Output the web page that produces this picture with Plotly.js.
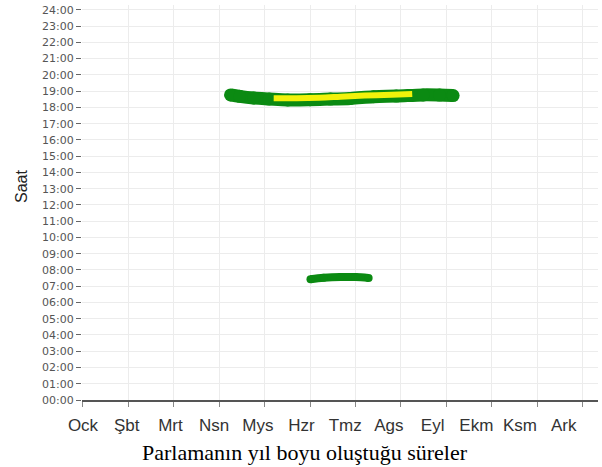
<!DOCTYPE html>
<html>
<head>
<meta charset="utf-8">
<script src="https://cdn.plot.ly/plotly-3.0.1.min.js"></script>
<style>html,body{margin:0;padding:0;background:#fff;}#chart{width:602px;height:467px;}</style>
</head>
<body>
<div id="chart"></div>
<script>
// Month labels (Turkish abbreviations)
const months = ["Ock","Şbt","Mrt","Nsn","Mys","Hzr","Tmz","Ags","Eyl","Ekm","Ksm","Ark"];
const monthIdx = [0,1,2,3,4,5,6,7,8,9,10,11];
const hourVals = [0,1,2,3,4,5,6,7,8,9,10,11,12,13,14,15,16,17,18,19,20,21,22,23,24];
const hourLabels = hourVals.map(h => (h < 10 ? "0" + h : "" + h) + ":00");

// Evening glare band (green), month position vs hour of day
const eveGreenX = [3.25, 3.45, 3.76, 4.10, 4.51, 5.00, 5.45, 5.89, 6.40, 6.90, 7.49, 7.85, 8.15];
const eveGreenY = [18.77, 18.68, 18.58, 18.52, 18.46, 18.47, 18.51, 18.55, 18.66, 18.70, 18.77, 18.76, 18.73];

// Evening glare band (yellow, inner)
const eveYellowX = [4.20, 4.70, 5.20, 5.67, 6.20, 6.80, 7.25];
const eveYellowY = [18.57, 18.57, 18.60, 18.66, 18.73, 18.78, 18.83];

// Morning glare band (green)
const mornGreenX = [5.01, 5.30, 5.67, 6.00, 6.29];
const mornGreenY = [7.43, 7.52, 7.57, 7.56, 7.51];

const traces = [
  {x: eveGreenX, y: eveGreenY, mode: "lines+markers", line: {color: "#0b8a12", width: 13, shape: "spline"},
   marker: {color: "#0b8a12", size: 13}, hoverinfo: "skip", showlegend: false},
  {x: eveYellowX, y: eveYellowY, mode: "lines", line: {color: "#f2f20a", width: 6, shape: "spline"},
   hoverinfo: "skip", showlegend: false},
  {x: mornGreenX, y: mornGreenY, mode: "lines+markers", line: {color: "#0b8a12", width: 8, shape: "spline"},
   marker: {color: "#0b8a12", size: 8}, hoverinfo: "skip", showlegend: false},
  {x: monthIdx, y: monthIdx.map(() => null), xaxis: "x2", mode: "markers", hoverinfo: "skip", showlegend: false}
];

const layout = {
  width: 602, height: 467,
  margin: {l: 82, r: 4, t: 5, b: 67},
  paper_bgcolor: "#ffffff", plot_bgcolor: "#ffffff",
  showlegend: false,
  xaxis: {
    range: [-0.02, 11.34], tickvals: monthIdx, showticklabels: false,
    ticks: "outside", ticklen: 5, tickcolor: "#888", tickwidth: 1,
    showgrid: true, gridcolor: "#ececec", gridwidth: 1,
    showline: true, linecolor: "#555", linewidth: 1.5, zeroline: false
  },
  xaxis2: {
    overlaying: "x", anchor: "y", side: "bottom",
    range: [-0.023, 11.785], tickvals: monthIdx, ticktext: months,
    ticks: "", showgrid: false, showline: false, zeroline: false,
    ticklabelstandoff: 13,
    tickfont: {family: "Liberation Sans, Arial, sans-serif", size: 17, color: "#333"}
  },
  yaxis: {
    range: [0, 24.3], tickvals: hourVals, ticktext: hourLabels,
    ticks: "outside", ticklen: 5, tickcolor: "#666", tickwidth: 1,
    showgrid: true, gridcolor: "#ececec", gridwidth: 1,
    showline: false, zeroline: false,
    tickfont: {family: "DejaVu Sans, sans-serif", size: 11, color: "#555"}
  },
  annotations: [
    {text: "Saat", xref: "paper", yref: "paper", x: (21 - 82) / 516, y: (400 - 187) / 395,
     xanchor: "center", yanchor: "middle", textangle: -90, showarrow: false,
     font: {family: "Liberation Sans, Arial, sans-serif", size: 16, color: "#222"}},
    {text: "Parlamanın yıl boyu oluştuğu süreler", xref: "paper", yref: "paper",
     x: (305 - 82) / 516, y: (400 - 452) / 395, xanchor: "center", yanchor: "middle",
     showarrow: false, font: {family: "Liberation Serif, Times New Roman, serif", size: 22, color: "#000"}}
  ]
};

Plotly.newPlot("chart", traces, layout, {displayModeBar: false, staticPlot: true});
</script>
</body>
</html>
